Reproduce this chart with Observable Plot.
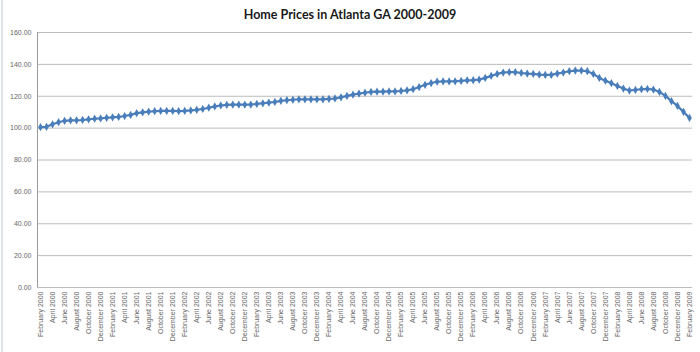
<!DOCTYPE html>
<html>
<head>
<meta charset="utf-8">
<script src="https://cdn.jsdelivr.net/npm/d3@7"></script>
<script src="https://cdn.jsdelivr.net/npm/@observablehq/plot@0.6"></script>
<style>
  html, body { margin: 0; padding: 0; background: #fff; }
  #wrap { position: relative; width: 700px; height: 352px; overflow: hidden; }
  #title { position: absolute; top: 7px; left: 0; width: 700px; text-align: center;
           font-family: Lato, "Liberation Sans", sans-serif; font-size: 12.5px; font-weight: bold; color: #1a1a1a; }
  #chart { position: absolute; top: 0; left: 0; }
  #edge { position: absolute; top: 0; left: 1px; width: 2px; height: 352px; background: #dde3ea; }
</style>
</head>
<body>
<div id="wrap">
  <div id="chart"></div>
  <div id="title">Home Prices in Atlanta GA 2000-2009</div>
  <div id="edge"></div>
</div>
<script>
const title = "Home Prices in Atlanta GA 2000-2009";

const months = [
  "February 2000","March 2000","April 2000","May 2000","June 2000","July 2000","August 2000","September 2000","October 2000","November 2000","December 2000",
  "January 2001","February 2001","March 2001","April 2001","May 2001","June 2001","July 2001","August 2001","September 2001","October 2001","November 2001","December 2001",
  "January 2002","February 2002","March 2002","April 2002","May 2002","June 2002","July 2002","August 2002","September 2002","October 2002","November 2002","December 2002",
  "January 2003","February 2003","March 2003","April 2003","May 2003","June 2003","July 2003","August 2003","September 2003","October 2003","November 2003","December 2003",
  "January 2004","February 2004","March 2004","April 2004","May 2004","June 2004","July 2004","August 2004","September 2004","October 2004","November 2004","December 2004",
  "January 2005","February 2005","March 2005","April 2005","May 2005","June 2005","July 2005","August 2005","September 2005","October 2005","November 2005","December 2005",
  "January 2006","February 2006","March 2006","April 2006","May 2006","June 2006","July 2006","August 2006","September 2006","October 2006","November 2006","December 2006",
  "January 2007","February 2007","March 2007","April 2007","May 2007","June 2007","July 2007","August 2007","September 2007","October 2007","November 2007","December 2007",
  "January 2008","February 2008","March 2008","April 2008","May 2008","June 2008","July 2008","August 2008","September 2008","October 2008","November 2008","December 2008",
  "January 2009","February 2009"
];

const prices = [
  100.6,100.8,102.4,103.7,104.6,104.9,104.9,105.1,105.5,105.9,106.1,
  106.5,106.8,107.0,107.6,108.3,109.4,109.9,110.3,110.6,110.8,110.8,110.8,
  110.7,110.8,111.1,111.5,112.0,112.8,113.6,114.2,114.6,114.7,114.7,114.7,
  114.8,115.2,115.6,116.0,116.4,117.1,117.5,117.8,118.1,118.1,118.1,118.1,
  118.1,118.3,118.6,119.3,120.2,121.0,121.7,122.2,122.7,122.9,122.9,123.0,
  123.0,123.3,123.7,124.4,125.8,127.2,128.3,129.1,129.3,129.3,129.4,129.6,
  130.0,130.1,130.4,131.5,132.8,134.0,134.9,135.1,135.1,134.6,134.2,134.0,
  133.6,133.4,133.4,134.2,134.9,135.7,136.1,136.1,135.7,134.0,131.5,129.8,
  128.2,126.5,124.8,123.6,124.0,124.4,124.6,124.2,122.7,120.2,116.9,113.9,
  110.2,106.4
];

const yTicks = [0, 20, 40, 60, 80, 100, 120, 140, 160];
const tickLabels = months.filter((m, i) => i % 2 === 0);

const data = months.map((m, i) => ({i, month: m, price: prices[i]}));
const tickIdx = tickLabels.map(l => months.indexOf(l));

const color = "#4A7EBB";
const font = "'Liberation Sans', Arial, sans-serif";

const chart = Plot.plot({
  width: 700,
  height: 352,
  marginTop: 32,
  marginBottom: 65,
  marginLeft: 37,
  marginRight: 8,
  style: {fontFamily: font, background: "transparent"},
  x: {domain: [-0.5, months.length - 0.5]},
  y: {domain: [0, 160]},
  marks: [
    Plot.ruleY(yTicks, {stroke: "#bcbcbc", strokeWidth: 1}),
    Plot.ruleX([-0.5], {stroke: "#9a9a9a", strokeWidth: 1}),
    Plot.axisY(yTicks, {tickSize: 0, tickPadding: 6, fontSize: 7, fill: "#666", tickFormat: d => d.toFixed(2), label: null}),
    Plot.axisX(tickIdx, {tickSize: 0, tickPadding: 4, tickRotate: -90, fontSize: 7, fill: "#666", tickFormat: i => months[i], label: null}),
    Plot.line(data, {x: "i", y: "price", stroke: color, strokeWidth: 2.2}),
    Plot.dot(data, {x: "i", y: "price", symbol: "diamond", r: 2.5, fill: color, stroke: null})
  ]
});
document.getElementById("chart").appendChild(chart);
</script>
</body>
</html>
